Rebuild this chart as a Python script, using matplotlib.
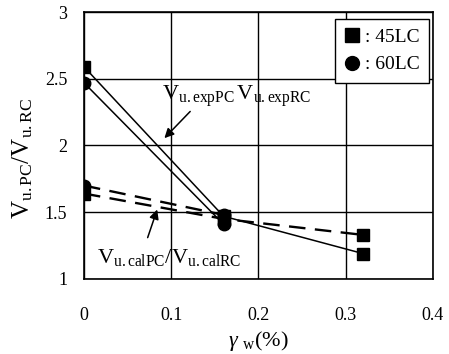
import numpy as np
import matplotlib.pyplot as plt

plt.rcParams['font.family'] = 'Liberation Serif'
plt.rcParams['mathtext.fontset'] = 'custom'
plt.rcParams['mathtext.rm'] = 'Liberation Serif'
plt.rcParams['mathtext.it'] = 'Liberation Serif:italic'

# reinforcement ratio (%)
gw_45 = [0, 0.16, 0.32]
gw_60 = [0, 0.16]

# experimental ratio Vu.expPC / Vu.expRC
exp_45 = [2.59, 1.47, 1.19]
exp_60 = [2.47, 1.41]

# calculated ratio Vu.calPC / Vu.calRC
cal_45 = [1.64, 1.45, 1.33]
cal_60 = [1.70, 1.48]

fig = plt.figure(figsize=(4.49, 3.54), dpi=100)
ax = fig.add_axes([0.187, 0.212, 0.777, 0.754])

ax.plot(gw_45, exp_45, '-', color='black', lw=1.1, marker='s', ms=9, zorder=3)
ax.plot(gw_60, exp_60, '-', color='black', lw=1.1, marker='o', ms=9, zorder=3)
ax.plot(gw_45, cal_45, '--', color='black', lw=1.7, dashes=(7, 4), marker='s', ms=9, zorder=3)
ax.plot(gw_60, cal_60, '--', color='black', lw=1.7, dashes=(7, 4), marker='o', ms=9, zorder=3)

ax.set_xlim(0, 0.4)
ax.set_ylim(1, 3)
ax.set_xticks([0, 0.1, 0.2, 0.3, 0.4])
ax.set_xticklabels(['0', '0.1', '0.2', '0.3', '0.4'])
ax.set_yticks([1, 1.5, 2, 2.5, 3])
ax.set_yticklabels(['1', '1.5', '2', '2.5', '3'])
ax.tick_params(length=0, labelsize=13)
ax.tick_params(axis='x', pad=20)
ax.tick_params(axis='y', pad=12)
ax.grid(True, color='black', lw=1.0)
for s in ax.spines.values():
    s.set_linewidth(1.2)

ax.set_xlabel(r'$\gamma$ $_{\mathrm{w}}$(%)', fontsize=16, labelpad=4)
ax.set_ylabel(r'$\mathrm{V}_{\mathrm{u.PC}}/\mathrm{V}_{\mathrm{u.RC}}$', fontsize=18)
ax.yaxis.set_label_coords(-0.14, 0.45)

ax.text(0.09, 2.34, r'$\mathrm{V}_{\mathrm{u.expPC}}\,\mathrm{V}_{\mathrm{u.expRC}}$',
        fontsize=16, va='baseline', ha='left')
ax.annotate('', xy=(0.090, 2.04), xytext=(0.124, 2.27),
            arrowprops=dict(arrowstyle='-|>', color='black', lw=1.1, mutation_scale=14))
ax.text(0.015, 1.12, r'$\mathrm{V}_{\mathrm{u.calPC}}/\mathrm{V}_{\mathrm{u.calRC}}$',
        fontsize=16, va='baseline', ha='left')
ax.annotate('', xy=(0.085, 1.54), xytext=(0.072, 1.29),
            arrowprops=dict(arrowstyle='-|>', color='black', lw=1.1, mutation_scale=14))

h1, = ax.plot([], [], 's', color='black', ms=10)
h2, = ax.plot([], [], 'o', color='black', ms=10)
leg = ax.legend([h1, h2], [': 45LC', ': 60LC'], loc='upper right', fontsize=14,
                frameon=True, fancybox=False, edgecolor='black', framealpha=1,
                handlelength=0.8, handletextpad=0.25, borderpad=0.5,
                borderaxespad=0.0, bbox_to_anchor=(0.99, 0.975))
leg.get_frame().set_linewidth(1.0)

fig.savefig('out.png', dpi=100)
